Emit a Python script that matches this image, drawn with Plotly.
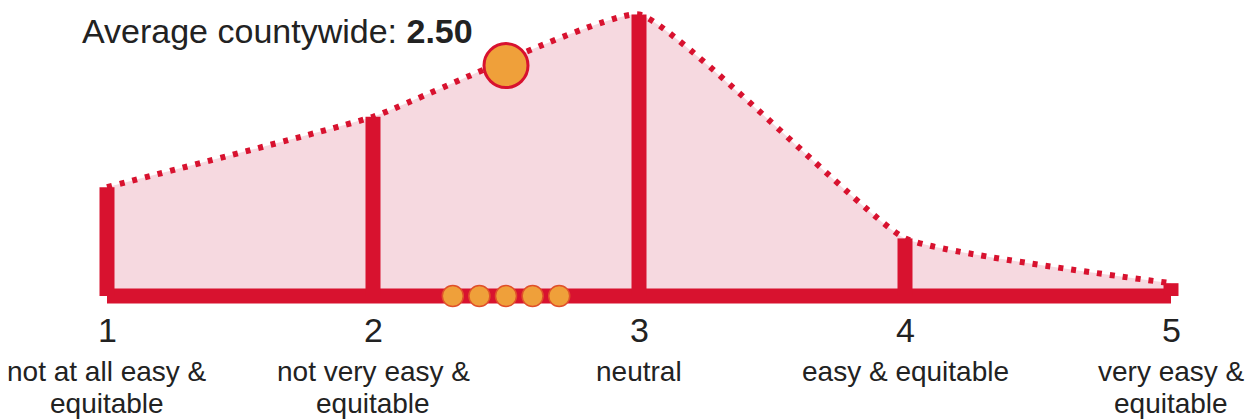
import plotly.graph_objects as go

# ---- data ----
scores = [1, 2, 3, 4, 5]
score_labels = ["not at all easy &<br>equitable", "not very easy &<br>equitable",
                "neutral", "easy & equitable", "very easy &<br>equitable"]
shares = [17, 28, 44, 9, 2]          # % of responses per score
average = 2.50
area_averages = [2.3, 2.4, 2.5, 2.6, 2.7]

RED = "#d8122f"
PINK = "rgba(244,210,218,0.85)"
ORANGE = "#efa03a"
FONT = "Liberation Sans, Arial"

W, H = 1249, 412   # page has an 8px body margin


def py(page_y):
    return 1 - (page_y - 8) / H


avg_y = shares[1] + (shares[2] - shares[1]) * (average - 2)

fig = go.Figure()

# filled area with dotted outline
fig.add_trace(go.Scatter(
    x=scores, y=shares, mode="lines",
    line=dict(color=RED, width=6, dash="5px,8px", shape="spline", smoothing=0.35),
    fill="tozeroy", fillcolor=PINK, hoverinfo="skip"))

# baseline
fig.add_trace(go.Scatter(
    x=[scores[0], scores[-1]], y=[0, 0], mode="lines",
    line=dict(color=RED, width=15), hoverinfo="skip"))

# vertical bars
for s, v in zip(scores, shares):
    fig.add_trace(go.Scatter(
        x=[s, s], y=[0, v], mode="lines",
        line=dict(color=RED, width=15), hoverinfo="skip"))

# small dots on baseline
fig.add_trace(go.Scatter(
    x=area_averages, y=[0] * len(area_averages), mode="markers",
    marker=dict(size=21, color=ORANGE, line=dict(color="#e0502a", width=1.5)),
    hoverinfo="skip"))

# big average circle
fig.add_trace(go.Scatter(
    x=[average], y=[avg_y], mode="markers",
    marker=dict(size=44, color=ORANGE, line=dict(color=RED, width=3)),
    hoverinfo="skip"))

annotations = [dict(
    x=0.8985, y=py(31), xref="x", yref="paper", xanchor="left", yanchor="middle",
    text=f"Average countywide: <b>{average:.2f}</b>", showarrow=False,
    font=dict(family=FONT, size=34, color="#222222"))]

for s, lab in zip(scores, score_labels):
    annotations.append(dict(
        x=s, y=py(330), xref="x", yref="paper", yanchor="middle",
        text=str(s), showarrow=False,
        font=dict(family=FONT, size=34, color="#222222")))
    for i, line in enumerate(lab.split("<br>")):
        annotations.append(dict(
            x=s, y=py(371 + 32 * i), xref="x", yref="paper", yanchor="middle",
            text=line, showarrow=False,
            font=dict(family=FONT, size=28, color="#222222")))

fig.update_layout(
    width=W, height=H,
    margin=dict(l=0, r=0, t=0, b=0),
    paper_bgcolor="white", plot_bgcolor="white",
    showlegend=False,
    xaxis=dict(range=[0.6278, 5.3233], visible=False, fixedrange=True),
    yaxis=dict(range=[-19.375, 45], visible=False, fixedrange=True),
    annotations=annotations,
)

fig.write_html("out.html")
